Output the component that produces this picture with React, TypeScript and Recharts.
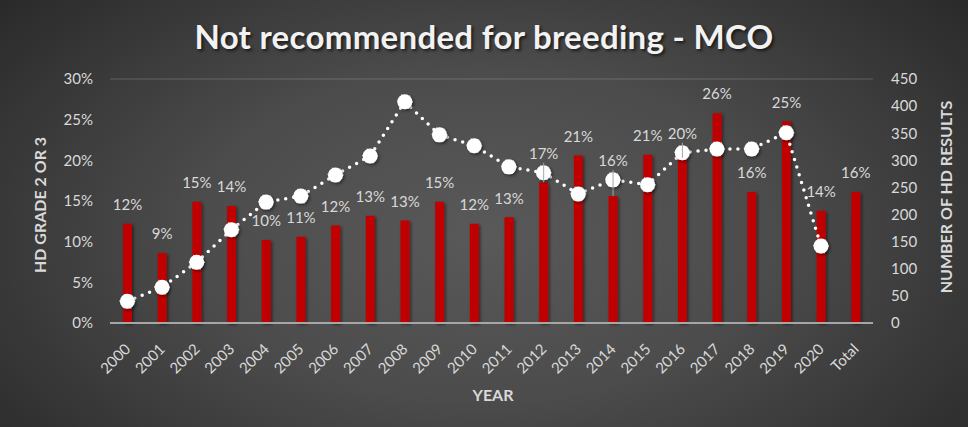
import {
  ComposedChart,
  Bar,
  Line,
  XAxis,
  YAxis,
  CartesianGrid,
  LabelList,
} from 'recharts';

const years = [
  '2000', '2001', '2002', '2003', '2004', '2005', '2006', '2007', '2008', '2009', '2010',
  '2011', '2012', '2013', '2014', '2015', '2016', '2017', '2018', '2019', '2020', 'Total',
];

// share of HD grade 2 or 3, in percent
const gradePct = [
  12.2, 8.6, 14.9, 14.4, 10.2, 10.6, 12.0, 13.2, 12.6, 14.9, 12.2,
  13.0, 17.3, 20.6, 15.6, 20.7, 20.3, 25.8, 16.1, 24.8, 13.8, 16.1,
];

// number of HD results (no point for Total)
const hdResults: (number | null)[] = [
  40, 66, 112, 172, 223, 234, 273, 308, 408, 347, 327,
  288, 277, 238, 264, 255, 314, 321, 321, 351, 142, null,
];

const pctTicks = [0, 5, 10, 15, 20, 25, 30];
const countTicks = [0, 50, 100, 150, 200, 250, 300, 350, 400, 450];

const PCT_MAX = 30;
const COUNT_MAX = 450;

const data = years.map((year, i) => ({
  year,
  pct: gradePct[i],
  results: hdResults[i],
}));

const FONT = 'Lato, "Open Sans", sans-serif';
const TEXT = '#d9d9d9';

const YearTick = ({ x, y, payload }: { x: number; y: number; payload: { value: string } }) => {
  const tx = x + 4;
  const ty = y + 19;
  return (
    <text
      x={tx}
      y={ty}
      transform={`rotate(-45 ${tx} ${ty})`}
      textAnchor="end"
      fill={TEXT}
      fontSize={15}
      fontFamily={FONT}
    >
      {payload.value}
    </text>
  );
};

// bar label that moves up above the line's dot when the two would collide
const PctLabel = (props: any) => {
  const { x, y, width, height, value, index } = props;
  const cx = x + width / 2;
  let cy = y - 19;
  const count = hdResults[index];
  let lifted = false;
  if (count != null && value) {
    const base = y + height;
    const plotH = (height * PCT_MAX) / value;
    const dotY = base - (count / COUNT_MAX) * plotH;
    if (Math.abs(cy - dotY) < 16) {
      cy = dotY - 19;
      lifted = true;
    }
  }
  return (
    <g>
      {lifted && (
        <line x1={cx} x2={cx} y1={cy + 9} y2={y} stroke="#a6a6a6" strokeWidth={1} />
      )}
      <text
        x={cx}
        y={cy}
        dy="0.35em"
        textAnchor="middle"
        fill={TEXT}
        fontSize={15}
        fontFamily={FONT}
      >
        {`${Math.round(value)}%`}
      </text>
    </g>
  );
};

const axisTitle = {
  position: 'absolute' as const,
  whiteSpace: 'nowrap' as const,
  color: TEXT,
  fontSize: 16,
  fontWeight: 700,
};

export default function App() {
  return (
    <div
      style={{
        position: 'absolute',
        left: 0,
        top: 0,
        width: 968,
        height: 427,
        fontFamily: FONT,
        background:
          'radial-gradient(ellipse 65% 85% at 50% 55%, #595959 0%, #4c4c4c 45%, #2a2a2a 100%)',
        overflow: 'hidden',
      }}
    >
      <div
        style={{
          position: 'absolute',
          top: 36,
          left: 484,
          transform: 'translate(-50%, -50%)',
          whiteSpace: 'nowrap',
          color: '#f2f2f2',
          fontSize: 33,
          fontWeight: 700,
          letterSpacing: 0.3,
          textShadow: '2px 2px 3px rgba(0,0,0,0.6)',
        }}
      >
        Not recommended for breeding - MCO
      </div>
      <div style={{ ...axisTitle, left: 39, top: 205, transform: 'translate(-50%, -50%) rotate(-90deg)' }}>
        HD GRADE 2 OR 3
      </div>
      <div style={{ ...axisTitle, left: 945, top: 197, transform: 'translate(-50%, -50%) rotate(-90deg)' }}>
        NUMBER OF HD RESULTS
      </div>
      <div style={{ ...axisTitle, left: 493, top: 394, transform: 'translate(-50%, -50%)' }}>
        YEAR
      </div>
      <ComposedChart
        width={968}
        height={427}
        data={data}
        margin={{ top: 79, right: 35, bottom: 32, left: 50 }}
        style={{ position: 'absolute', left: 0, top: 0 }}
      >
        <defs>
          <filter id="shadow" x="-50%" y="-50%" width="200%" height="200%">
            <feDropShadow dx="1.5" dy="1.5" stdDeviation="1.5" floodColor="#000" floodOpacity="0.5" />
          </filter>
        </defs>
        <CartesianGrid vertical={false} stroke="rgba(255,255,255,0.13)" strokeWidth={1.5} />
        <XAxis
          dataKey="year"
          interval={0}
          height={72}
          tick={YearTick}
          tickLine={false}
          axisLine={{ stroke: '#a6a6a6', strokeWidth: 2 }}
        />
        <YAxis
          yAxisId="pct"
          domain={[0, PCT_MAX]}
          ticks={pctTicks}
          width={60}
          tickLine={false}
          axisLine={false}
          tickMargin={11}
          tickFormatter={(v: number) => `${v}%`}
          tick={{ fill: TEXT, fontSize: 15, fontFamily: FONT }}
        />
        <YAxis
          yAxisId="count"
          orientation="right"
          domain={[0, COUNT_MAX]}
          ticks={countTicks}
          width={60}
          tickLine={false}
          axisLine={false}
          tickMargin={12}
          tick={{ fill: TEXT, fontSize: 15, fontFamily: FONT, textAnchor: 'start' }}
        />
        <Bar
          yAxisId="pct"
          dataKey="pct"
          fill="#c00000"
          barSize={9}
          isAnimationActive={false}
          filter="url(#shadow)"
        >
          <LabelList dataKey="pct" content={PctLabel} />
        </Bar>
        <Line
          yAxisId="count"
          dataKey="results"
          type="linear"
          stroke="#ffffff"
          strokeWidth={3.5}
          strokeDasharray="0 8"
          strokeLinecap="round"
          dot={{ r: 7.5, fill: '#ffffff', stroke: '#ffffff', strokeWidth: 1, filter: 'url(#shadow)' }}
          activeDot={false}
          isAnimationActive={false}
        />
      </ComposedChart>
    </div>
  );
}
